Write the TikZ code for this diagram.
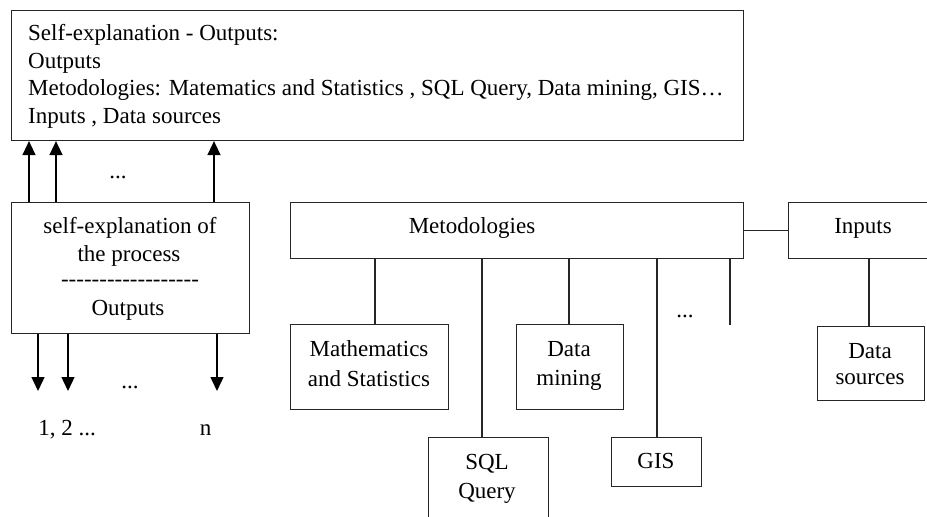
\documentclass[tikz,border=0pt]{standalone}
\usepackage{fontspec}
\setmainfont{Liberation Serif}
\usetikzlibrary{arrows.meta}
% a row of separate hyphens (no en-dash ligatures)
\newcommand\hyphenrow[1]{\ifnum#1>0 \mbox{-}\expandafter\hyphenrow\expandafter{\number\numexpr#1-1\relax}\fi}
\begin{document}
\begin{tikzpicture}[x=1pt,y=-1pt,
  box/.style={draw=black!85, line width=1.1pt, inner sep=0pt, anchor=north west},
  lbl/.style={inner sep=0pt, anchor=base, font=\fontsize{23}{27.7}\selectfont},
  lbll/.style={lbl, anchor=base west},
  link/.style={draw=black!85, line width=1.1pt},
  arr/.style={draw=black, line width=1.4pt, -{Triangle[length=14pt,width=13pt]}}]
\useasboundingbox (0,0) rectangle (927,517);
\clip (0,0) rectangle (927,517);
\fill[white] (0,0) rectangle (927,517);

% summary box
\node[box, minimum width=732pt, minimum height=130pt] (summary) at (11,10) {};
\node[lbll] (s1) at (28,40.5) {Self-explanation - Outputs:};
\node[lbll] (s2) at (28,68) {Outputs};
\node[lbll] (s3) at (28,95.5) {Metodologies: Matematics and Statistics , SQL Query, Data mining, GIS…};
\node[lbll] (s4) at (28,123) {Inputs , Data sources};

% process box
\node[box, minimum width=238pt, minimum height=131pt] (proc) at (11,202) {};
\node[lbl] (p1) at (130,233) {self-explanation of};
\node[lbl] (p2) at (129,261) {the process};
\node[lbl] (p3) at (130,286) {\hyphenrow{18}};
\node[lbl] (p4) at (128,315) {Outputs};

% arrows up into the summary
\coordinate (u1) at (29,0);
\coordinate (u2) at (56,0);
\coordinate (u3) at (214,0);
\draw[arr] (proc.north -| u1) -- (summary.south -| u1);
\draw[arr] (proc.north -| u2) -- (summary.south -| u2);
\draw[arr] (proc.north -| u3) -- (summary.south -| u3);
\node[lbl] (udots) at (118,178.5) {...};

% arrows down to the outputs
\coordinate (d1) at (38,391);
\coordinate (d2) at (68,391);
\coordinate (d3) at (217,391);
\draw[arr] (proc.south -| d1) -- (d1);
\draw[arr] (proc.south -| d2) -- (d2);
\draw[arr] (proc.south -| d3) -- (d3);
\node[lbl] (ddots) at (130,388) {...};
\node[lbl] (n12) at (67,435) {1, 2 ...};
\node[lbl] (nn) at (205.5,435) {n};

% methodologies and inputs
\node[box, minimum width=453pt, minimum height=56pt] (met) at (290,202) {};
\node[lbl] (metl) at (472,233) {Metodologies};
\node[box, minimum width=150pt, minimum height=56pt] (inp) at (788,202) {};
\node[lbl] (inpl) at (863,233) {Inputs};
\draw[link] (met.east) -- (inp.west);

\node[box, minimum width=158pt, minimum height=85pt] (math) at (290,324) {};
\node[lbl] (math1) at (369,356) {Mathematics};
\node[lbl] (math2) at (369,386.5) {and Statistics};

\node[box, minimum width=107pt, minimum height=85pt] (dm) at (516,324) {};
\node[lbl] (dm1) at (569,356) {Data};
\node[lbl] (dm2) at (569,385) {mining};

\node[box, minimum width=120pt, minimum height=100pt] (sql) at (428,437) {};
\node[lbl] (sql1) at (487,469) {SQL};
\node[lbl] (sql2) at (487,498.5) {Query};

\node[box, minimum width=90pt, minimum height=49pt] (gis) at (611,437) {};
\node[lbl] (gis1) at (656,468) {GIS};

\node[box, minimum width=107pt, minimum height=74pt] (ds) at (817,326) {};
\node[lbl] (ds1) at (870,358) {Data};
\node[lbl] (ds2) at (870,384) {sources};

\coordinate (c1) at (375,0);
\coordinate (c2) at (482,0);
\coordinate (c3) at (569,0);
\coordinate (c4) at (657,0);
\coordinate (c5) at (869,0);
\coordinate (fe) at (730,325);
\draw[link] (met.south -| c1) -- (math.north -| c1);
\draw[link] (met.south -| c2) -- (sql.north -| c2);
\draw[link] (met.south -| c3) -- (dm.north -| c3);
\draw[link] (met.south -| c4) -- (gis.north -| c4);
\draw[link] (met.south -| fe) -- (fe);
\node[lbl] (mdots) at (685,317) {...};
\draw[link] (inp.south -| c5) -- (ds.north -| c5);
\end{tikzpicture}
\end{document}
